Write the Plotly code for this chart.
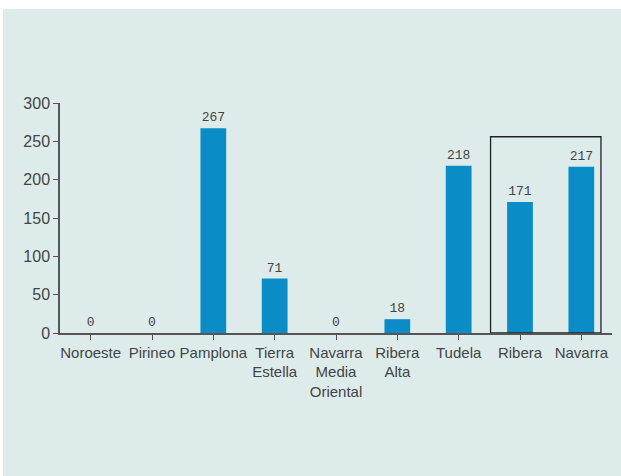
import plotly.graph_objects as go

# Comarcas y valores
categorias = ["Noroeste", "Pirineo", "Pamplona", "Tierra<br>Estella",
              "Navarra<br>Media<br>Oriental", "Ribera<br>Alta", "Tudela",
              "Ribera", "Navarra"]
valores = [0, 0, 267, 71, 0, 18, 218, 171, 217]
ticks_y = [0, 50, 100, 150, 200, 250, 300]

W, H = 621, 476
L, R, T, B = 60, 9, 103, 143
pw, ph = W - L - R, H - T - B

BG = "#ddeceb"
BAR = "#0a8cc6"
TXT = "#444444"
AXIS = "#555555"

fig = go.Figure()
fig.add_trace(go.Bar(
    x=list(range(len(categorias))), y=valores,
    marker=dict(color=BAR, line=dict(width=0)),
    text=[str(v) for v in valores], textposition="outside",
    textfont=dict(family="Liberation Mono", size=13, color=TXT),
    cliponaxis=False,
))

# panel de fondo (deja una franja blanca arriba y a la izquierda)
fig.add_shape(type="rect", xref="paper", yref="paper",
              x0=(3 - L) / pw, x1=(W + 5 - L) / pw,
              y0=(H - T - B - (H + 5 - T)) / ph, y1=(H - B - 9) / ph,
              fillcolor=BG, line=dict(width=0), layer="below")

# recuadro que agrupa Ribera y Navarra
fig.add_shape(type="rect", xref="x", yref="y",
              x0=6.52, x1=8.32, y0=0, y1=256,
              line=dict(color="#222222", width=1.3), fillcolor="rgba(0,0,0,0)")

fig.update_layout(
    width=W, height=H,
    margin=dict(l=L, r=R, t=T, b=B),
    paper_bgcolor="white", plot_bgcolor="rgba(0,0,0,0)",
    bargap=0.58, showlegend=False,
    font=dict(family="Liberation Sans Narrow, Arial Narrow, sans-serif", color=TXT),
)
fig.update_xaxes(
    range=[-0.5, len(categorias) - 0.5],
    tickmode="array", tickvals=list(range(len(categorias))), ticktext=categorias,
    ticks="outside", tickson="boundaries", ticklen=5, tickwidth=1.3, tickcolor=AXIS,
    showline=True, linecolor=AXIS, linewidth=1.5, showgrid=False, zeroline=False,
    tickfont=dict(size=15, color=TXT), fixedrange=True,
)
fig.update_yaxes(
    range=[0, 300], tickvals=ticks_y,
    ticks="outside", ticklen=5, tickwidth=1.3, tickcolor=AXIS,
    showline=True, linecolor=AXIS, linewidth=1.5, showgrid=False, zeroline=False,
    tickfont=dict(size=16, color=TXT), fixedrange=True,
)

fig.write_html("out.html")
